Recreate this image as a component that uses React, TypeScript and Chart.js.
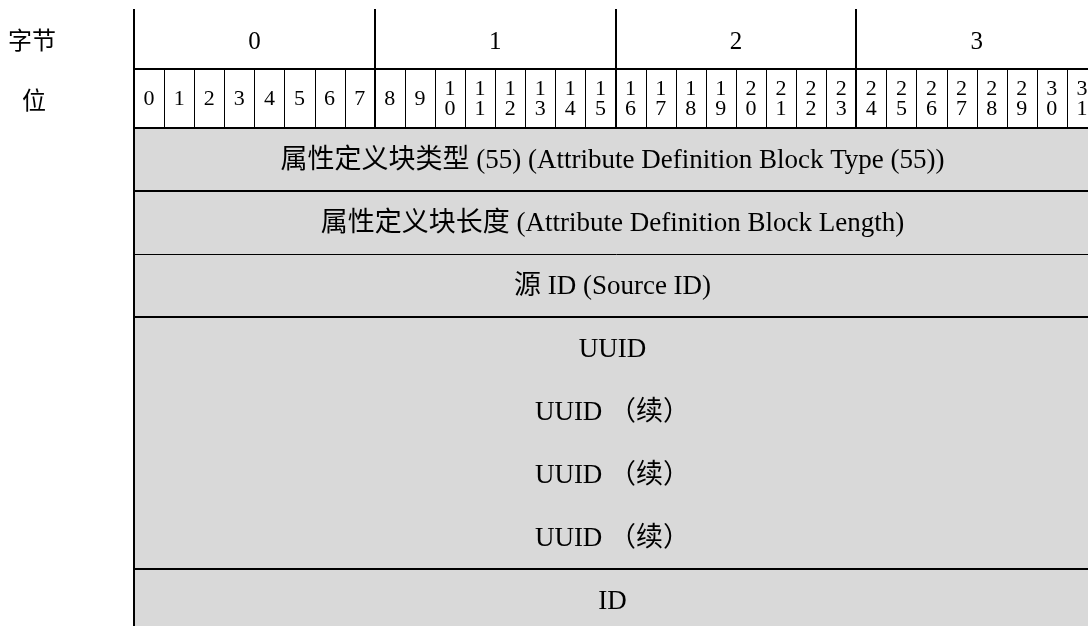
import React, { useEffect, useRef } from "react";
import { Chart, registerables } from "chart.js";

Chart.register(...registerables);

// ---- data ----
const byteLabels = ["0", "1", "2", "3"];
const bitLabels = [
  "0", "1", "2", "3", "4", "5", "6", "7",
  "8", "9", "10", "11", "12", "13", "14", "15",
  "16", "17", "18", "19", "20", "21", "22", "23",
  "24", "25", "26", "27", "28", "29", "30", "31",
];
const headerLabels = ["字节", "位"];
const fieldLabels = [
  "属性定义块类型 (55) (Attribute Definition Block Type (55))",
  "属性定义块长度 (Attribute Definition Block Length)",
  "源 ID (Source ID)",
  "UUID",
  "UUID （续）",
  "UUID （续）",
  "UUID （续）",
  "ID",
];
const fieldGroups = ["type", "length", "source", "uuid", "uuid", "uuid", "uuid", "id"];
const fieldStartBit = [0, 0, 0, 0, 0, 0, 0, 0];
const fieldEndBit = [32, 32, 32, 32, 32, 32, 32, 32];
const bitsPerByte = 8;
const totalBits = 32;

// ---- style ----
const W = 1100;
const H = 632;
const FILL = "#d9d9d9";
const INK = "#000000";
const HEADER_TOP = 9;
const BIT_ROW_TOP = 69;
const ROW_FONT = "27px 'Liberation Serif', 'Noto Sans CJK SC', serif";
const BYTE_FONT = "25px 'Liberation Serif', serif";
const BIT_FONT = "22px 'Liberation Serif', serif";
const CJK_FONT = "24px 'Noto Sans CJK SC', sans-serif";

const diagramPlugin = {
  id: "diagram",
  afterDatasetsDraw(chart: any) {
    const ctx = chart.ctx as CanvasRenderingContext2D;
    const xs = chart.scales.x;
    const ys = chart.scales.y;
    const ca = chart.chartArea;
    const x0 = xs.getPixelForValue(0);
    const xEnd = xs.getPixelForValue(totalBits);
    ctx.save();
    ctx.strokeStyle = INK;
    ctx.fillStyle = INK;
    ctx.lineCap = "butt";

    const hline = (y: number, w: number, a: number, b: number) => {
      ctx.lineWidth = w;
      ctx.beginPath();
      const yy = w % 2 === 1 ? Math.round(y) + 0.5 : Math.round(y);
      ctx.moveTo(a, yy);
      ctx.lineTo(b, yy);
      ctx.stroke();
    };
    const vline = (x: number, w: number, a: number, b: number) => {
      ctx.lineWidth = w;
      ctx.beginPath();
      const xx = w % 2 === 1 ? Math.round(x) + 0.5 : Math.round(x);
      ctx.moveTo(xx, a);
      ctx.lineTo(xx, b);
      ctx.stroke();
    };

    // header horizontal lines
    hline(BIT_ROW_TOP, 2, x0, xEnd + 2);
    hline(ca.top, 2, x0, xEnd + 2);

    // bit separators
    for (let b = 1; b < totalBits; b++) {
      if (b % bitsPerByte !== 0) vline(xs.getPixelForValue(b), 1, BIT_ROW_TOP, ca.top);
    }
    // byte separators
    for (let b = bitsPerByte; b <= totalBits; b += bitsPerByte) {
      vline(xs.getPixelForValue(b), 2, HEADER_TOP, ca.top);
    }
    // left border
    vline(x0, 2, HEADER_TOP, H);

    // field separators
    for (let i = 1; i < fieldGroups.length; i++) {
      if (fieldGroups[i] !== fieldGroups[i - 1]) {
        const y = (ys.getPixelForValue(i - 1) + ys.getPixelForValue(i)) / 2;
        hline(y, i === 2 ? 1 : 2, x0, xEnd + 2);
      }
    }

    // header labels
    ctx.textAlign = "center";
    ctx.textBaseline = "middle";
    ctx.font = CJK_FONT;
    ctx.fillText(headerLabels[0], 32, (HEADER_TOP + BIT_ROW_TOP) / 2 + 1);
    ctx.fillText(headerLabels[1], 34, (BIT_ROW_TOP + ca.top) / 2 + 1);

    ctx.font = BYTE_FONT;
    byteLabels.forEach((lab, i) => {
      const cx = xs.getPixelForValue(i * bitsPerByte + bitsPerByte / 2);
      ctx.fillText(lab, cx, (HEADER_TOP + BIT_ROW_TOP) / 2 + 3);
    });

    ctx.font = BIT_FONT;
    const bitMid = (BIT_ROW_TOP + ca.top) / 2;
    bitLabels.forEach((lab, i) => {
      const cx = xs.getPixelForValue(i + 0.5);
      if (lab.length === 1) {
        ctx.fillText(lab, cx, bitMid + 1);
      } else {
        ctx.fillText(lab[0], cx, bitMid - 9);
        ctx.fillText(lab[1], cx, bitMid + 11);
      }
    });

    // field labels
    ctx.font = ROW_FONT;
    fieldLabels.forEach((lab, i) => {
      const cx = (xs.getPixelForValue(fieldStartBit[i]) + xs.getPixelForValue(fieldEndBit[i])) / 2;
      ctx.fillText(lab, cx - 3, ys.getPixelForValue(i) + 1);
    });
    ctx.restore();
  },
};

export default function App() {
  const ref = useRef<HTMLCanvasElement | null>(null);
  useEffect(() => {
    if (!ref.current) return;
    const chart = new Chart(ref.current, {
      type: "bar",
      data: {
        labels: fieldLabels.map((_, i) => String(i)),
        datasets: [
          {
            data: fieldLabels.map((_, i) => [fieldStartBit[i], fieldEndBit[i]]) as any,
            backgroundColor: FILL,
            borderWidth: 0,
            barPercentage: 1,
            categoryPercentage: 1,
          },
        ],
      },
      options: {
        indexAxis: "y",
        responsive: false,
        animation: false,
        events: [],
        layout: { padding: { left: 134, top: 128, right: W - 1097, bottom: 0 } },
        scales: {
          x: { type: "linear", min: 0, max: totalBits, display: false },
          y: { type: "category", display: false, offset: true },
        },
        plugins: { legend: { display: false }, tooltip: { enabled: false } },
      },
      plugins: [diagramPlugin],
    } as any);
    return () => chart.destroy();
  }, []);
  return (
    <canvas
      ref={ref}
      width={W}
      height={H}
      style={{ position: "fixed", left: 0, top: 0, width: W, height: H, background: "#fff" }}
    />
  );
}
